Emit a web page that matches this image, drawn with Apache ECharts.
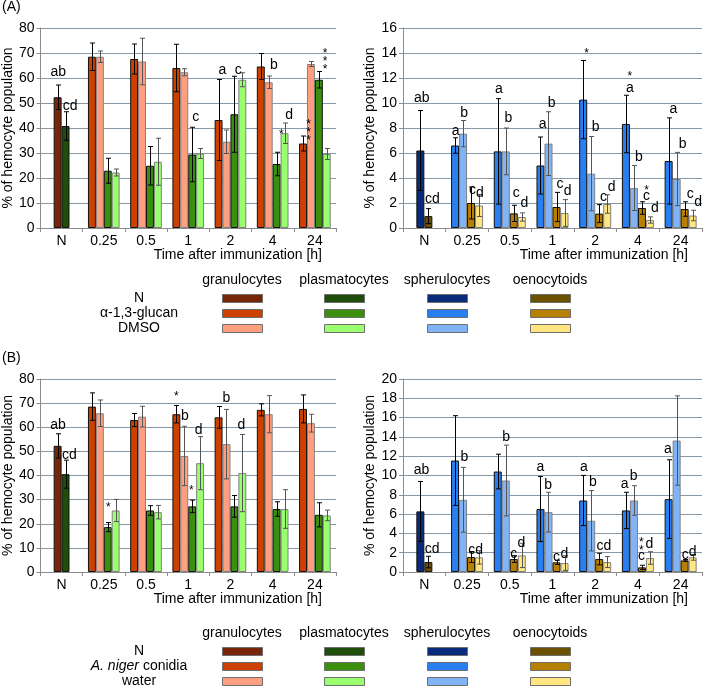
<!DOCTYPE html>
<html>
<head>
<meta charset="utf-8">
<title>Hemocyte populations</title>
<script src="https://cdn.jsdelivr.net/npm/echarts@6/dist/echarts.min.js"></script>
<style>
  html, body { margin: 0; padding: 0; background: #fff; }
  #chart { width: 710px; height: 687px; }
</style>
</head>
<body>
<div id="chart"></div>
<script>
// categories
var times = ['N', '0.25', '0.5', '1', '2', '4', '24'];

// colours: [N, treatment, control]
var granCol = ['#77260a', '#cc4000', '#ff9f80'];
var plasCol = ['#1e4e0a', '#3a900c', '#99ff6f'];
var sphCol = ['#0a2a7a', '#2a7ff0', '#80b4f7'];
var oenCol = ['#6b5000', '#b88000', '#ffe680'];

// (A) alpha-1,3-glucan vs DMSO, values for 0.25..24 h, N = [mean, sd]
var aGranN = [52.3, 4.9];
var aGranGlu = [68.5, 67.6, 64.0, 43.2, 64.6, 33.8];
var aGranGluSd = [5.5, 6.0, 9.5, 16.2, 5.2, 3.0];
var aGranDmso = [68.5, 66.6, 62.3, 34.5, 58.3, 65.6];
var aGranDmsoSd = [2.3, 9.3, 1.4, 4.7, 2.5, 1.0];
var aPlasN = [40.8, 5.7];
var aPlasGlu = [22.9, 24.9, 29.4, 45.5, 25.6, 59.3];
var aPlasGluSd = [5.0, 7.7, 10.9, 15.2, 4.7, 3.3];
var aPlasDmso = [22.2, 26.5, 29.8, 59.3, 37.9, 29.6];
var aPlasDmsoSd = [1.4, 9.4, 2.0, 2.8, 4.1, 2.2];

var aSphN = [6.2, 3.2];
var aSphGlu = [6.6, 6.13, 5.0, 10.27, 8.32, 5.36];
var aSphGluSd = [0.62, 4.22, 2.28, 3.13, 2.3, 3.45];
var aSphDmso = [7.55, 6.13, 6.75, 4.35, 3.2, 3.92];
var aSphDmsoSd = [1.05, 1.87, 2.55, 2.97, 1.8, 2.13];
var aOenN = [0.95, 0.6];
var aOenGlu = [2.0, 1.17, 1.68, 1.15, 1.6, 1.52];
var aOenGluSd = [1.28, 0.65, 1.17, 0.72, 0.5, 0.58];
var aOenDmso = [1.8, 0.88, 1.2, 1.92, 0.64, 1.0];
var aOenDmsoSd = [0.88, 0.33, 1.07, 0.74, 0.25, 0.42];

// (B) A. niger conidia vs water
var bGranN = [52.3, 5.0];
var bGranCon = [68.55, 63.0, 65.4, 64.1, 67.2, 67.6];
var bGranConSd = [5.7, 2.7, 3.6, 4.5, 2.5, 5.8];
var bGranWat = [65.8, 64.4, 48.1, 53.0, 65.4, 61.7];
var bGranWatSd = [5.5, 4.3, 12.3, 14.4, 7.7, 3.7];
var bPlasN = [40.55, 5.8];
var bPlasCon = [18.6, 25.5, 27.2, 27.2, 26.1, 23.7];
var bPlasConSd = [1.9, 2.0, 2.6, 4.5, 3.0, 5.0];
var bPlasWat = [25.5, 24.8, 45.1, 41.0, 26.1, 23.45];
var bPlasWatSd = [4.6, 2.8, 11.0, 16.0, 8.0, 2.2];

var bSphN = [6.28, 3.1];
var bSphCon = [11.55, 10.41, 6.52, 7.41, 6.38, 7.55];
var bSphConSd = [4.65, 1.8, 3.37, 2.6, 1.88, 4.08];
var bSphWat = [7.48, 9.48, 6.2, 5.31, 7.41, 13.62];
var bSphWatSd = [3.36, 3.67, 2.06, 3.13, 1.53, 4.63];
var bOenN = [1.03, 0.6];
var bOenCon = [1.55, 1.34, 1.0, 1.34, 0.48, 1.2];
var bOenConSd = [0.57, 0.35, 0.22, 0.6, 0.22, 0.09];
var bOenWat = [1.52, 1.72, 0.93, 1.03, 1.45, 1.52];
var bOenWatSd = [0.7, 1.26, 0.76, 0.57, 0.65, 0.3];

// significance letters: [category, offset in bar widths from group centre, y value, text]
var annA1 = [
    [0, -0.43, 62.2, 'ab'], [0, 1.08, 48.8, 'cd'], [3, 0.94, 44.3, 'c'],
    [4, -1.03, 63, 'a'], [4, 1.0, 63, 'c'], [5, 0.16, 65.3, 'b'],
    [5, 1.09, 38.5, '*'], [5, 2.08, 45.2, 'd'],
    [6, -0.79, 39.2, '*\n*\n*'], [6, 1.3, 67.6, '*\n*\n*']
];
var annA2 = [
    [0, -0.33, 10.35, 'ab'], [0, 1.0, 2.32, 'cd'],
    [1, -1.42, 7.73, 'a'], [1, -0.38, 9.15, 'b'], [1, 0.67, 3.0, 'c'], [1, 1.6, 2.75, 'd'],
    [2, -1.35, 11.07, 'a'], [2, -0.18, 8.75, 'b'], [2, 0.82, 2.75, 'c'], [2, 1.82, 2.0, 'd'],
    [3, -1.23, 8.27, 'a'], [3, -0.1, 9.95, 'b'], [3, 0.94, 3.47, 'c'], [3, 1.9, 2.93, 'd'],
    [4, -1.07, 14.2, '*'], [4, 0.06, 8.08, 'b'], [4, 1.03, 2.48, 'c'], [4, 2.06, 3.25, 'd'],
    [5, -1.0, 12.35, '*'], [5, -1.0, 11.2, 'a'], [5, 0.12, 5.68, 'b'], [5, 1.08, 3.2, '*'],
    [5, 1.08, 2.53, 'c'], [5, 2.12, 1.6, 'd'],
    [6, -0.91, 9.47, 'a'], [6, 0.26, 6.67, 'b'], [6, 1.2, 2.67, 'c'], [6, 2.2, 2.08, 'd']
];
var annB1 = [
    [0, -0.46, 61.0, 'ab'], [0, 1.0, 48.3, 'cd'], [1, 0.58, 27.9, '*'],
    [3, -1.5, 74.1, '*'], [3, -0.42, 64.4, 'b'], [3, 0.38, 34.8, '*'], [3, 1.33, 58.9, 'd'],
    [4, -0.5, 72.0, 'b'], [4, 1.38, 61.0, 'd']
];
var annB2 = [
    [0, -0.35, 10.59, 'ab'], [0, 0.98, 2.38, 'cd'],
    [1, -0.33, 11.9, 'b'], [1, 1.08, 2.3, 'cd'],
    [2, -0.44, 14.0, 'b'], [2, 0.48, 1.9, 'c'], [2, 1.44, 3.0, 'd'],
    [3, -1.5, 10.9, 'a'], [3, -0.54, 9.03, 'b'], [3, 0.5, 1.5, 'c'], [3, 1.5, 1.85, 'd'],
    [4, -1.42, 10.86, 'a'], [4, -0.29, 9.31, 'b'], [4, 1.08, 2.66, 'cd'],
    [5, -1.65, 9.14, 'a'], [5, -0.52, 9.9, 'b'], [5, 0.44, 2.93, '*\n*'], [5, 0.44, 1.69, 'c'], [5, 1.44, 2.93, 'd'],
    [6, -1.58, 12.72, 'a'], [6, 0.58, 1.75, 'c'], [6, 1.5, 2.1, 'd']
];

var FONT = '"Liberation Sans", Arial, sans-serif';
var GAP = 0.25; // barCategoryGap

function barWidth(api) {
    return api.size([1, 0])[0] * (1 - GAP) / 4;
}

function errRender(params, api) {
    var cat = api.value(0), lo = api.value(1), hi = api.value(2), slot = api.value(3), light = api.value(4);
    var bw = barWidth(api);
    var pHi = api.coord([cat, hi]);
    var pLo = api.coord([cat, lo]);
    var x = Math.round(pHi[0] + (slot - 1.5) * bw) + 0.5;
    var c = light ? '#555' : '#000';
    var cap = 2.5;
    return {
        type: 'group',
        children: [
            {type: 'line', shape: {x1: x, y1: pHi[1], x2: x, y2: pLo[1]}, style: {stroke: c, lineWidth: 1}},
            {type: 'line', shape: {x1: x - cap, y1: pHi[1], x2: x + cap, y2: pHi[1]}, style: {stroke: c, lineWidth: 1}},
            {type: 'line', shape: {x1: x - cap, y1: pLo[1], x2: x + cap, y2: pLo[1]}, style: {stroke: c, lineWidth: 1}}
        ]
    };
}

function annRender(list) {
    return function (params, api) {
        var a = list[params.dataIndex];
        var p = api.coord([a[0], a[2]]);
        var star = a[3].indexOf('*') >= 0;
        var lines = a[3].split('\n').length;
        return {
            type: 'text',
            x: p[0] + a[1] * barWidth(api),
            y: p[1] + (star ? 3 : 0),
            style: {
                text: a[3],
                font: (star ? 12 : 14) + 'px ' + FONT,
                fill: '#000',
                align: 'center',
                verticalAlign: 'middle',
                lineHeight: star && lines > 1 ? 8 : 16
            }
        };
    };
}

// one panel: two cell types, each {n, trt, trtSd, ctl, ctlSd, col}
function buildPanel(g, first, second, ann) {
    var slots = [
        {vals: [null].concat(first.trt), sds: [null].concat(first.trtSd), col: first.col[1], light: 0},
        {vals: [first.n[0]].concat(first.ctl), sds: [first.n[1]].concat(first.ctlSd), col: first.col[2], light: 1, nCol: first.col[0]},
        {vals: [second.n[0]].concat(second.trt), sds: [second.n[1]].concat(second.trtSd), col: second.col[1], light: 0, nCol: second.col[0]},
        {vals: [null].concat(second.ctl), sds: [null].concat(second.ctlSd), col: second.col[2], light: 1}
    ];
    var series = [];
    var errData = [];
    slots.forEach(function (s, si) {
        var data = s.vals.map(function (v, i) {
            if (v === null) return null;
            if (i === 0) {
                return {value: v, itemStyle: {color: s.nCol, borderColor: '#111'}};
            }
            return v;
        });
        s.vals.forEach(function (v, i) {
            if (v === null) return;
            var light = i === 0 ? 0 : s.light;
            errData.push([i, Math.max(0, v - s.sds[i]), v + s.sds[i], si, light]);
        });
        series.push({
            type: 'bar',
            xAxisIndex: g,
            yAxisIndex: g,
            barGap: '0%',
            barCategoryGap: (GAP * 100) + '%',
            data: data,
            itemStyle: {color: s.col, borderColor: s.light ? '#808080' : '#111', borderWidth: 1},
            emphasis: {disabled: true},
            silent: true
        });
    });
    series.push({
        type: 'custom',
        xAxisIndex: g,
        yAxisIndex: g,
        renderItem: errRender,
        data: errData,
        clip: false,
        silent: true,
        z: 5
    });
    series.push({
        type: 'custom',
        xAxisIndex: g,
        yAxisIndex: g,
        renderItem: annRender(ann),
        data: ann.map(function (a) { return [a[0], a[2]]; }),
        clip: false,
        silent: true,
        z: 6
    });
    return series;
}

function xAxisFor(g) {
    return {
        type: 'category',
        gridIndex: g,
        data: times,
        name: 'Time after immunization [h]',
        nameLocation: 'end',
        nameGap: -14,
        nameTextStyle: {
            fontFamily: FONT, fontSize: 14, color: '#000',
            align: 'right', verticalAlign: 'top', padding: [20, 0, 0, 0]
        },
        axisLine: {lineStyle: {color: '#8c8c8c'}},
        axisTick: {show: true, length: 4, lineStyle: {color: '#8c8c8c'}},
        axisLabel: {fontFamily: FONT, fontSize: 14, color: '#000', margin: 6}
    };
}

function yAxisFor(g, max, interval, gap) {
    return {
        type: 'value',
        gridIndex: g,
        min: 0,
        max: max,
        interval: interval,
        name: '% of hemocyte population',
        nameLocation: 'middle',
        nameGap: gap,
        nameTextStyle: {fontFamily: FONT, fontSize: 14, color: '#000'},
        axisLine: {show: true, lineStyle: {color: '#8c8c8c'}},
        axisTick: {show: true, length: 4, lineStyle: {color: '#8c8c8c'}},
        axisLabel: {fontFamily: FONT, fontSize: 14, color: '#000', margin: 6},
        splitLine: {lineStyle: {color: '#8798a6', width: 1}}
    };
}

function legendGraphics(top, rowLabels) {
    var heads = ['granulocytes', 'plasmatocytes', 'spherulocytes', 'oenocytoids'];
    var cols = [granCol, plasCol, sphCol, oenCol];
    var xs = [222, 324, 427, 530];
    var els = [];
    heads.forEach(function (h, i) {
        els.push({
            type: 'text', x: xs[i] + 20, y: top,
            style: {text: h, font: '14px ' + FONT, fill: '#000', align: 'center', verticalAlign: 'middle'}
        });
        for (var r = 0; r < 3; r++) {
            els.push({
                type: 'rect',
                shape: {x: xs[i] + 0.5, y: top + 14 + r * 15 + 0.5, width: 40, height: 8},
                style: {fill: cols[i][r], stroke: '#6e6e6e', lineWidth: 1}
            });
        }
    });
    rowLabels.forEach(function (t, r) {
        els.push({
            type: 'text', x: 139, y: top + 18 + r * 15,
            style: {
                text: t, font: '14px ' + FONT, fill: '#000', align: 'center', verticalAlign: 'middle',
                rich: {i: {fontStyle: 'italic', fontFamily: FONT, fontSize: 14}}
            }
        });
    });
    return els;
}

var chart = echarts.init(document.getElementById('chart'));

var series = []
    .concat(buildPanel(0,
        {n: aGranN, trt: aGranGlu, trtSd: aGranGluSd, ctl: aGranDmso, ctlSd: aGranDmsoSd, col: granCol},
        {n: aPlasN, trt: aPlasGlu, trtSd: aPlasGluSd, ctl: aPlasDmso, ctlSd: aPlasDmsoSd, col: plasCol},
        annA1))
    .concat(buildPanel(1,
        {n: aSphN, trt: aSphGlu, trtSd: aSphGluSd, ctl: aSphDmso, ctlSd: aSphDmsoSd, col: sphCol},
        {n: aOenN, trt: aOenGlu, trtSd: aOenGluSd, ctl: aOenDmso, ctlSd: aOenDmsoSd, col: oenCol},
        annA2))
    .concat(buildPanel(2,
        {n: bGranN, trt: bGranCon, trtSd: bGranConSd, ctl: bGranWat, ctlSd: bGranWatSd, col: granCol},
        {n: bPlasN, trt: bPlasCon, trtSd: bPlasConSd, ctl: bPlasWat, ctlSd: bPlasWatSd, col: plasCol},
        annB1))
    .concat(buildPanel(3,
        {n: bSphN, trt: bSphCon, trtSd: bSphConSd, ctl: bSphWat, ctlSd: bSphWatSd, col: sphCol},
        {n: bOenN, trt: bOenCon, trtSd: bOenConSd, ctl: bOenWat, ctlSd: bOenWatSd, col: oenCol},
        annB2));

var option = {
    animation: false,
    backgroundColor: '#fff',
    textStyle: {fontFamily: FONT},
    grid: [
        {left: 37, top: 28, width: 299, height: 200},
        {left: 403, top: 28, width: 299, height: 200},
        {left: 37, top: 379, width: 299, height: 193},
        {left: 403, top: 379, width: 299, height: 193}
    ],
    xAxis: [xAxisFor(0), xAxisFor(1), xAxisFor(2), xAxisFor(3)],
    yAxis: [yAxisFor(0, 80, 10, 25), yAxisFor(1, 16, 2, 23), yAxisFor(2, 80, 10, 25), yAxisFor(3, 20, 2, 23)],
    graphic: [
        {type: 'text', x: 2, y: 7, style: {text: '(A)', font: '14px ' + FONT, fill: '#000', verticalAlign: 'middle'}},
        {type: 'text', x: 2, y: 358, style: {text: '(B)', font: '14px ' + FONT, fill: '#000', verticalAlign: 'middle'}}
    ]
        .concat(legendGraphics(280, ['N', 'α-1,3-glucan', 'DMSO']))
        .concat(legendGraphics(633, ['N', '{i|A. niger} conidia', 'water'])),
    series: series
};

chart.setOption(option);
</script>
</body>
</html>
